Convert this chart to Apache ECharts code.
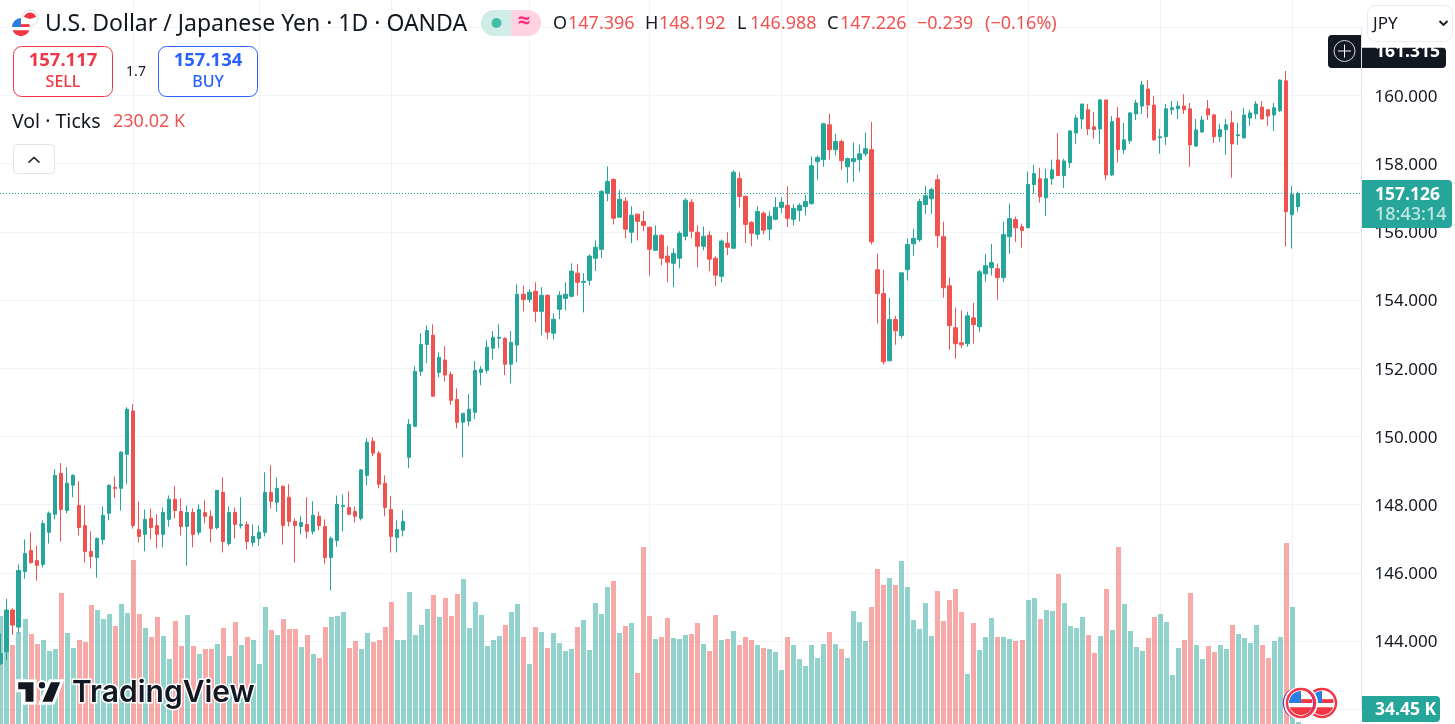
<!DOCTYPE html>
<html><head><meta charset="utf-8">
<script src="https://cdn.jsdelivr.net/npm/echarts@6/dist/echarts.min.js"></script>
<style>html,body{margin:0;padding:0;background:#fff;overflow:hidden}#c{width:1455px;height:724px}</style>
</head><body><div id="c"></div>
<script>
const opens=[143.34,143.69,144.91,144.41,146.04,146.66,146.36,146.25,147.19,147.72,
148.92,147.83,148.57,147.98,147.39,146.63,146.45,146.98,147.75,148.51,
148.48,149.48,150.75,147.27,147.13,147.60,147.39,147.13,147.57,148.16,
147.80,147.36,147.77,147.19,147.77,147.66,147.33,148.36,146.86,147.77,
147.39,147.42,146.89,147.01,147.19,148.36,148.07,148.54,148.22,147.51,
147.36,147.42,147.22,147.66,147.36,146.45,146.95,147.95,147.92,147.80,
147.60,148.86,149.86,149.51,148.63,147.86,147.04,147.25,149.39,150.30,
151.91,152.70,152.97,151.88,152.24,151.82,151.09,150.42,150.45,150.71,
151.88,151.94,152.59,152.88,152.88,152.12,152.68,154.17,154.02,154.26,
153.67,154.14,153.03,153.73,154.05,154.11,154.79,154.52,154.58,155.23,
155.49,157.13,157.54,156.43,156.90,155.99,156.52,156.31,156.14,155.46,
155.90,155.29,155.08,155.23,155.87,156.87,155.99,155.58,155.90,155.23,
154.70,155.67,155.52,157.57,157.04,156.28,155.93,156.55,156.08,156.37,
156.72,156.78,156.37,156.63,156.74,156.83,158.06,158.12,159.14,158.41,
158.65,157.91,158.06,158.12,158.29,158.41,154.89,154.19,152.22,153.43,
152.96,154.89,155.65,155.77,156.80,156.97,157.53,155.86,154.42,153.19,
152.75,152.72,153.48,153.22,154.77,154.95,154.92,154.66,155.86,156.36,
156.15,156.12,157.39,157.56,157.00,157.56,158.11,157.65,158.03,158.90,
159.31,159.58,159.08,159.02,159.87,157.67,159.34,158.41,158.67,159.46,
159.69,160.19,159.72,158.76,158.79,159.58,159.61,159.69,159.61,158.52,
158.93,159.61,159.43,158.79,159.00,159.20,158.82,158.76,159.34,159.46,
159.66,159.58,159.43,159.55,160.43,156.50,156.74];
const closes=[143.64,144.91,144.47,146.07,146.57,146.30,146.22,147.45,147.75,148.86,
147.86,148.63,148.86,147.33,146.63,146.48,147.01,147.69,148.57,148.48,
149.54,150.80,147.39,147.07,147.57,147.33,147.13,147.77,148.16,147.83,
147.36,147.77,147.13,147.86,147.66,147.30,148.42,146.92,147.77,147.42,
147.42,146.92,147.07,147.19,148.36,148.10,148.48,147.39,147.51,147.39,
147.48,147.22,147.69,147.39,146.45,147.01,148.01,147.98,147.72,147.66,
149.02,149.83,149.51,148.60,147.92,147.07,147.27,147.51,150.36,151.91,
152.70,153.11,151.18,152.32,151.80,151.06,150.42,150.68,150.80,151.94,
151.97,152.62,152.91,152.91,152.12,152.76,154.17,154.02,154.23,153.67,
154.14,153.06,153.44,154.14,154.17,154.85,154.52,154.55,155.29,155.55,
157.19,157.48,156.40,156.96,156.08,156.49,156.31,156.19,155.49,155.90,
155.23,155.11,155.37,155.96,156.93,156.02,155.58,155.87,155.20,154.73,
155.73,155.55,157.75,157.04,156.22,155.96,156.60,156.05,156.46,156.72,
156.87,156.40,156.69,156.78,156.89,157.94,158.18,159.17,158.41,158.65,
158.09,158.15,158.15,158.29,158.44,155.71,154.19,152.19,153.43,153.10,
154.80,155.63,155.81,156.89,157.06,157.24,155.89,154.36,153.25,152.72,
152.69,153.54,153.28,154.83,155.01,155.10,154.66,155.92,156.39,156.12,
156.04,157.39,157.71,157.03,157.56,157.82,157.65,158.08,158.96,159.34,
159.75,159.02,159.00,159.87,157.67,159.23,158.41,158.70,159.49,159.78,
160.31,159.72,158.70,158.79,159.61,159.64,159.69,159.58,158.55,158.99,
159.28,159.43,158.79,159.00,159.14,158.58,158.85,159.43,159.49,159.75,
159.31,159.40,159.64,160.45,156.59,157.09,157.126];
const highs=[144.22,145.24,144.96,146.25,146.98,147.19,146.80,147.54,147.80,149.04,
149.22,149.10,148.89,148.69,147.98,147.22,147.04,147.95,148.60,148.83,
149.57,150.86,150.95,148.10,147.86,147.89,147.72,147.92,148.27,148.54,
148.19,147.98,147.89,148.01,148.13,147.83,148.42,148.80,147.95,147.92,
148.22,147.51,147.42,147.39,148.95,149.16,148.80,148.57,148.60,147.60,
147.66,148.22,148.10,147.80,147.57,147.07,148.27,148.30,148.39,147.95,
149.05,149.95,149.98,149.57,148.86,148.25,147.54,147.83,150.51,152.06,
153.03,153.26,153.29,152.47,152.65,151.91,151.41,150.68,151.24,152.21,
152.06,152.82,153.09,153.29,152.91,153.09,154.46,154.43,154.32,154.52,
154.38,154.17,153.61,154.26,154.52,155.08,155.05,154.79,155.34,155.75,
157.22,157.92,157.57,157.22,157.02,156.75,156.52,156.61,156.14,156.19,
155.93,155.58,155.52,156.02,156.99,156.96,156.19,156.16,156.02,155.29,
155.78,155.99,157.81,157.75,157.07,156.31,156.75,156.60,156.60,157.02,
157.02,157.34,156.81,156.84,157.09,158.21,158.24,159.20,159.47,158.88,
158.70,158.18,158.62,158.56,158.91,159.23,155.36,154.89,154.07,153.54,
154.80,155.81,156.09,156.97,157.35,157.30,157.68,156.30,154.66,153.78,
153.69,153.66,153.92,154.89,155.36,155.65,155.07,156.30,156.83,156.45,
156.24,157.77,157.97,157.88,157.85,158.12,158.90,158.14,158.99,159.43,
159.75,159.75,159.52,159.90,159.87,159.40,159.66,159.20,159.52,159.87,
160.43,160.45,159.99,159.02,159.75,159.84,159.84,160.04,159.78,159.31,
159.40,159.87,159.46,159.17,159.31,159.55,159.20,159.63,159.58,159.84,
159.84,159.61,159.78,160.48,160.72,157.35,157.18];
const lows=[143.30,143.44,144.18,144.23,145.83,146.27,145.77,146.16,146.86,147.57,
146.92,147.75,148.22,147.10,146.30,146.13,145.86,146.83,147.54,148.19,
147.83,148.60,147.30,146.89,146.63,146.98,146.72,146.75,147.36,147.60,
147.10,146.22,146.75,147.10,147.45,146.89,147.27,146.60,146.80,147.01,
147.30,146.69,146.77,146.80,147.07,147.89,147.80,146.83,147.36,146.30,
147.13,147.01,147.13,147.25,146.27,145.48,146.77,147.22,147.69,147.48,
147.54,148.57,149.42,148.48,147.66,146.60,146.60,147.07,149.07,150.27,
151.77,152.15,151.18,151.74,151.62,150.92,150.24,149.39,150.30,150.51,
151.50,151.85,152.26,152.59,151.80,151.56,152.18,153.67,153.94,153.35,
152.97,152.85,152.85,153.44,153.70,154.08,154.14,153.64,154.43,154.85,
155.23,156.90,156.22,156.43,155.81,155.67,155.75,156.02,154.70,155.46,
155.02,154.52,154.38,154.93,155.75,155.81,154.96,155.46,154.85,154.41,
154.52,155.32,155.52,156.72,155.67,155.58,155.78,155.93,155.75,156.34,
156.55,156.14,156.19,156.31,156.48,156.80,157.53,157.91,158.12,158.24,
157.82,157.44,157.47,157.77,158.21,155.63,153.31,152.11,152.22,152.69,
152.87,154.57,155.30,155.71,156.53,156.53,155.54,154.07,152.55,152.28,
152.60,152.63,152.72,153.07,154.54,154.72,154.01,154.54,155.36,155.71,
155.54,156.12,157.12,156.86,156.47,157.38,157.65,157.29,157.88,158.58,
159.02,158.84,158.73,158.58,157.53,157.64,158.03,158.29,158.58,159.28,
159.46,159.34,158.67,158.29,158.55,159.43,159.31,159.46,157.91,158.49,
158.90,159.28,158.61,158.64,158.26,157.59,158.55,158.73,159.11,159.31,
159.31,159.11,158.96,159.52,155.57,155.51,156.59];
const volumesK=[259.6,208.6,198,225.6,253.2,221.3,200.1,208.6,185.2,189.5,
308.4,223.5,191.6,208.6,204.4,282.9,272.3,253.2,263.8,238.3,
285.1,265.9,378.5,263.8,234.1,215,257.5,217.1,168.2,249,
195.9,261.7,195.9,178.9,189.5,189.5,200.1,234.1,174.6,246.8,
198,215,208.6,157.6,278.7,229.8,219.2,253.2,232,232,
193.7,219.2,178.9,170.4,236.2,257.5,259.6,268.1,191.6,206.5,
189.5,223.5,204.4,208.6,236.2,289.3,208.6,208.6,310.6,219.2,
240.5,274.4,304.2,257.5,297.8,259.6,306.3,338.2,234.1,289.3,
261.7,195.9,208.6,217.1,240.5,268.1,285.1,215,157.6,236.2,
225.6,191.6,223.5,202.2,185.2,189.5,236.2,251.1,187.4,287.2,
263.8,321.2,333.9,223.5,238.3,244.7,138.5,406.1,259.6,210.7,
215,255.3,212.8,210.7,219.2,221.3,244.7,200.1,185.2,261.7,
208.6,210.7,227.7,198,215,208.6,198,191.6,189.5,183.1,
144.9,215,198,168.2,153.4,198,170.4,200.1,225.6,200.1,
189.5,170.4,270.2,246.8,206.5,278.7,359.4,325.4,340.3,325.4,
376.4,321.2,251.1,232,287.2,217.1,312.7,249,293.6,316.9,
268.1,136.4,244.7,187.4,215,255.3,215,215,210.7,206.5,
208.6,293.6,297.8,253.2,272.3,270.2,348.8,287.2,238.3,234.1,
257.5,219.2,181,217.1,316.9,229.8,406.1,285.1,227.7,193.7,
185.2,212.8,257.5,263.8,246.8,134.3,191.6,208.6,308.4,198,
168.2,195.9,183.1,198,189.5,240.5,221.3,212.8,202.2,240.5,
198,170.4,206.5,215,414.6,278.7,34.45];
const monthStarts=[22,43,65,88,108,130,151,171,193,215];
const priceTicks=[144,146,148,150,152,154,156,158,160];
const lastPrice=157.126;
const categories=opens.map((_,i)=>String(i)).concat(Array.from({length:10},(_,i)=>'f'+i));

const UP='#26a69a',DOWN='#ef5350',INK='#131722',GRIDLINE='#f0f3f7';
const FONT='"Noto Sans","Open Sans",sans-serif';
const candleData=opens.map((o,i)=>[o,closes[i],lows[i],highs[i]]);
const volData=volumesK.map((v,i)=>[i,v]);
const snap=x=>{const d=Math.round(x*2);return d%2?d/2:(d+1)/2;};

function T(text,x,y,size,fill,o){o=o||{};return {type:'text',silent:true,z:o.z||100,style:Object.assign({text,x,y,fill,font:(o.weight||'normal')+' '+size+'px '+FONT,textAlign:o.align||'left',textVerticalAlign:'middle'},o.extra||{})};}
function R(x,y,w,h,r,fill,stroke,lw,z){return {type:'rect',silent:true,z:z||100,shape:{x,y,width:w,height:h,r},style:{fill,stroke,lineWidth:lw||0}};}
function C(cx,cy,r,fill,stroke,lw,z){return {type:'circle',silent:true,z:z||100,shape:{cx,cy,r},style:{fill,stroke,lineWidth:lw||0}};}
function PG(points,fill,stroke,lw,z){return {type:'polygon',silent:true,z:z||100,shape:{points},style:{fill,stroke,lineWidth:lw||0}};}
function PL(points,stroke,lw,z){return {type:'polyline',silent:true,z:z||100,shape:{points},style:{fill:'none',stroke,lineWidth:lw||1}};}
function S(cx,cy,r,a0,a1,fill,z){return {type:'sector',silent:true,z:z||100,shape:{cx,cy,r,r0:0,startAngle:a0,endAngle:a1},style:{fill}};}
function chord(cx,cy,r,d){const pts=[],a=Math.asin(d/r);for(let k=0;k<=16;k++){const t=a+(Math.PI-2*a)*k/16;pts.push([cx+r*Math.cos(t),cy+r*Math.sin(t)]);}return pts;}
function flag(cx,cy,r,z){
  return [
    C(cx,cy,r,'#fff',null,0,z),
    PG(chord(cx,cy,r,r*0.36),'#f23645',null,0,z),
    R(cx,cy-r*0.32,r*0.95,r*0.32,0,'#f23645',null,0,z),
    S(cx,cy,r,Math.PI,1.5*Math.PI,'#2a7de1',z)
  ];
}
const overlay=[
  C(30,18,8,'#fff','#d9dbe0',1),
  S(30,19,6.5,Math.PI*1.1,Math.PI*1.9,'#f23645'),
  ...flag(21,27,9,101),
  T('U.S. Dollar / Japanese Yen · 1D · OANDA',45,24,23,INK),
  R(481,10,30,26,[13,0,0,13],'#d0ece7'),
  R(511,10,30,26,[0,13,13,0],'#ffd3e2'),
  C(496.5,23,5,'#42bda8'),
  T('≈',524,22,22,'#f7317f',{align:'center',weight:'bold'}),
  T('O',553,24,18,INK),T('147.396',568,24,18,DOWN),
  T('H',645,24,18,INK),T('148.192',659,24,18,DOWN),
  T('L',737,24,18,INK),T('146.988',750,24,18,DOWN),
  T('C',827,24,18,INK),T('147.226',840,24,18,DOWN),
  T('−0.239',917,24,18,DOWN),T('(−0.16%)',985,24,18,DOWN),
  R(13.5,46.5,99,50,8,'#fff','#f23645',1),
  T('157.117',63,61,18.5,'#f23645',{align:'center',weight:'bold'}),
  T('SELL',63,82,16,'#f23645',{align:'center',weight:'500'}),
  T('1.7',136,72,14,INK,{align:'center'}),
  R(158.5,46.5,99,50,8,'#fff','#2962ff',1),
  T('157.134',208,61,18.5,'#2962ff',{align:'center',weight:'bold'}),
  T('BUY',208,82,16,'#2962ff',{align:'center',weight:'500'}),
  T('Vol · Ticks',12,122,19.5,INK),
  T('230.02 K',113,122,18,DOWN),
  R(13.5,144.5,41,29,4,'#fff','#e0e3eb',1),
  PL([[28.5,162.5],[34,157.5],[39.5,162.5]],INK,1.6),
  // price scale tags
  R(1328,35,33,33,[4,0,0,4],INK),
  R(1362,47.5,84,20.5,[0,4,4,0],INK),
  C(1344.5,51,10.5,'none','#d6d8dd',1),
  PL([[1338,51],[1351,51]],'#fff',1),PL([[1344.5,44.5],[1344.5,57.5]],'#fff',1),
  T('161.315',1375,52,17.5,'#fff',{weight:'bold'}),
  R(1362,0,93,47.5,0,'#fff',null,0,101),
  R(1367.5,5.5,85,36,8,'#fff','#e9ebf0',1,102),
  T('JPY',1373,24,17,INK,{z:103}),
  PL([[1439.5,21],[1443.5,25],[1447.5,21]],INK,1.8,103),
  R(1362,180,90,48,[0,4,4,0],UP),
  T('157.126',1375,195,17.5,'#fff',{weight:'bold'}),
  T('18:43:14',1375,215,18,'rgba(255,255,255,0.72)',{weight:'500'}),
  R(1362,696,78,26,[0,4,4,0],UP),
  T('34.45 K',1375,710,17.5,'#fff',{weight:'bold'}),
  // TradingView mark
  PG([[16.7,680.7],[35,680.7],[35,703.3],[24,703.3],[24,690.7],[16.7,690.7]],INK,'#fff',3),
  PG([[50,680.7],[62.3,680.7],[53.3,703.3],[40,703.3]],INK,'#fff',3),
  C(42,685.3,4.2,INK,'#fff',2),
  T('TradingView',72,693,30,INK,{extra:{stroke:'#fff',lineWidth:3,font:'600 30px Inter,"Noto Sans",sans-serif'}}),
  // indicator badges
  C(1322,703,16,'#fff'),
  ...flag(1322,703,12,100),
  C(1322,703,14,'none','#f23645',2.4),
  C(1299,703,15,'#fff','#8e24aa',2.4),
  C(1301,703,16,'none','#fff',2),
  ...flag(1301,703,12,100),
  C(1301,703,14,'none','#f23645',2.4)
];

const chart=echarts.init(document.getElementById('c'),null,{renderer:'canvas'});
const band=6.006,gridLeft=0.73,gridWidth=band*(categories.length-1);
chart.setOption({
  animation:false,backgroundColor:'#ffffff',
  grid:[
    {left:gridLeft,width:gridWidth,top:27.3,height:682},
    {left:gridLeft,width:gridWidth,top:0,height:724},
    {left:0,width:1361.5,top:27.3,height:682}
  ],
  xAxis:[
    {type:'category',gridIndex:0,data:categories,boundaryGap:false,show:false},
    {type:'category',gridIndex:1,data:categories,boundaryGap:false,show:false},
    {type:'value',gridIndex:2,min:0,max:1,show:false}
  ],
  yAxis:[
    {type:'value',gridIndex:0,min:142,max:162,interval:2,show:false},
    {type:'value',gridIndex:1,min:30,max:1568.5,show:false,splitLine:{show:false}},
    {type:'value',gridIndex:2,position:'right',min:142,max:162,interval:2,
     axisLine:{show:true,onZero:false,lineStyle:{color:'#e0e3eb',width:1}},axisTick:{show:false},
     axisLabel:{margin:13,color:INK,
       rich:{a:{fontSize:17,color:INK,fontFamily:'Noto Sans',padding:[3,0,0,0]}},
       formatter:v=>priceTicks.includes(v)?'{a|'+v.toFixed(3)+'}':''},
     splitLine:{show:true,lineStyle:{color:GRIDLINE,width:1}}}
  ],
  series:[
    {type:'custom',name:'Months',xAxisIndex:1,yAxisIndex:1,data:monthStarts.map(i=>[i,30]),z:1,silent:true,clip:false,
     renderItem:(p,api)=>{const x=snap(api.coord([api.value(0),30])[0]);
       return {type:'line',shape:{x1:x,y1:0,x2:x,y2:724},style:{stroke:GRIDLINE,lineWidth:1}};}},
    {type:'custom',name:'Vol',xAxisIndex:1,yAxisIndex:1,data:volData,z:2,silent:true,clip:false,
     encode:{x:0,y:1},
     renderItem:(p,api)=>{const i=api.value(0),top=api.coord([i,api.value(1)]),base=api.coord([i,30]);
       const x=snap(top[0])-2.5,y=Math.round(top[1]);
       return {type:'rect',shape:{x,y,width:5,height:base[1]-y},
         style:{fill:closes[i]>=opens[i]?'rgba(38,166,154,0.5)':'rgba(239,83,80,0.5)'}};}},
    {type:'candlestick',name:'USDJPY',xAxisIndex:0,yAxisIndex:0,data:candleData,barWidth:4,z:3,silent:true,clip:false,
     itemStyle:{color:UP,color0:DOWN,borderColor:UP,borderColor0:DOWN,borderWidth:1}},
    {type:'line',name:'Last',xAxisIndex:2,yAxisIndex:2,data:[[0,lastPrice],[1,lastPrice]],z:4,silent:true,
     showSymbol:false,lineStyle:{color:UP,width:1,type:[1,2]}}
  ],
  graphic:{elements:overlay}
});
</script></body></html>
